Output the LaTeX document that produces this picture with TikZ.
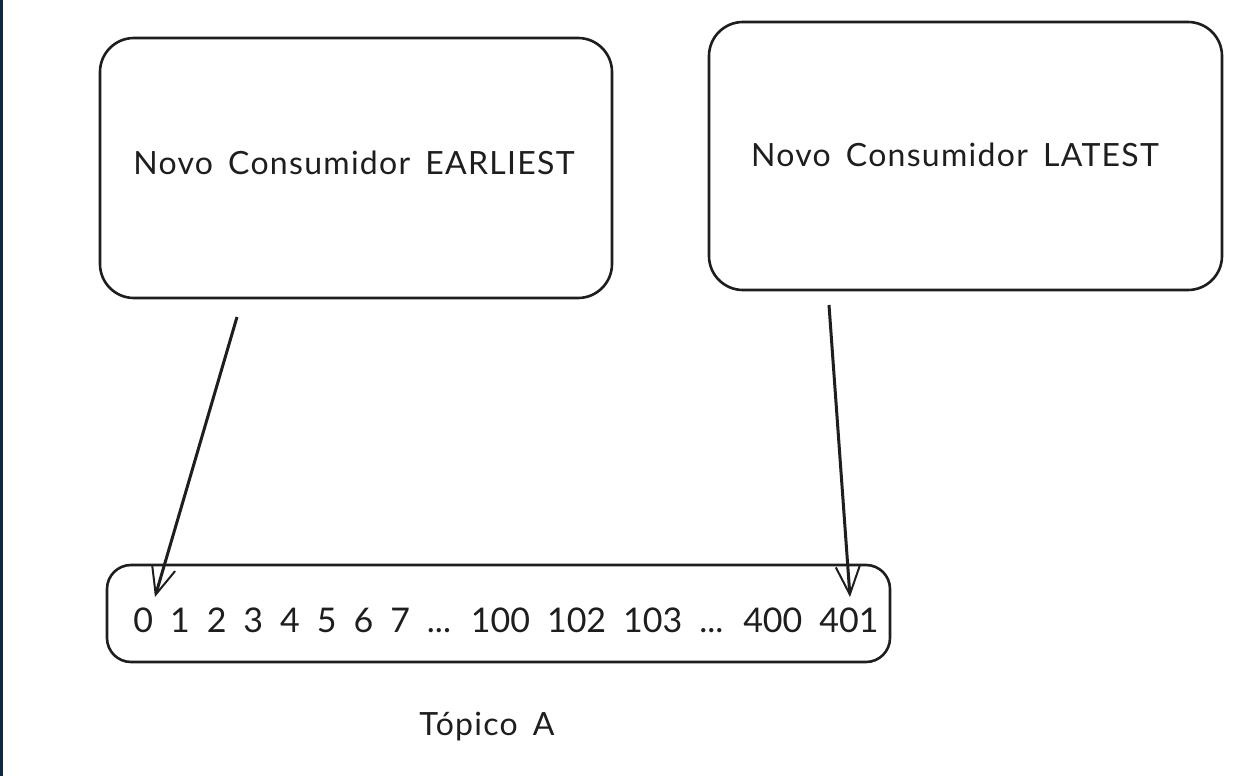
\documentclass[tikz,border=0pt]{standalone}
\usepackage{fontspec}
\setmainfont{Lato}
\newfontfamily\handfont[LetterSpace=4,WordSpace=1.6]{Lato}
\newfontfamily\numfont[WordSpace=1.95]{Lato}
\usetikzlibrary{arrows.meta}
\definecolor{ink}{RGB}{30,30,30}
\definecolor{navy}{RGB}{14,40,64}
\tikzset{
  card/.style={draw=ink, line width=2.6pt, rounded corners=34pt, fill=white, inner sep=0pt},
  lbl/.style={text=ink, font=\handfont\fontsize{32}{36}\selectfont, inner sep=0pt},
  conn/.style={draw=ink, line width=3pt, -{Straight Barb[length=28pt,width=24pt,line width=2pt]}}
}
\begin{document}
\begin{tikzpicture}[x=1pt,y=-1pt]
\useasboundingbox (0,0) rectangle (1248,776);
\fill[white] (0,0) rectangle (1248,776);
\fill[navy] (0,0) rectangle (2.5,776);
\node[card, minimum width=512pt, minimum height=260pt] (box1) at (356,168) {};
\node[lbl] (t1) at (354,163) {Novo Consumidor EARLIEST};
\node[card, minimum width=513pt, minimum height=268pt] (box2) at (965.5,156) {};
\node[lbl] (t2) at (955,155) {Novo Consumidor LATEST};
\node[card, rounded corners=24pt, minimum width=783pt, minimum height=97pt] (topic) at (498.5,613.5) {};
\node[lbl, font=\numfont\fontsize{34}{38}\selectfont] (nums) at (506,620) {0 1 2 3 4 5 6 7 ... 100 102 103 ... 400 401};
\node[lbl] (t3) at (487,727) {Tópico A};
\coordinate (a1s) at (237,317);
\coordinate (a1e) at (155,597);
\coordinate (a2s) at (829,305);
\coordinate (a2e) at (850,597);
\draw[conn] (a1s) -- (a1e);
\draw[conn] (a2s) -- (a2e);
\end{tikzpicture}
\end{document}
